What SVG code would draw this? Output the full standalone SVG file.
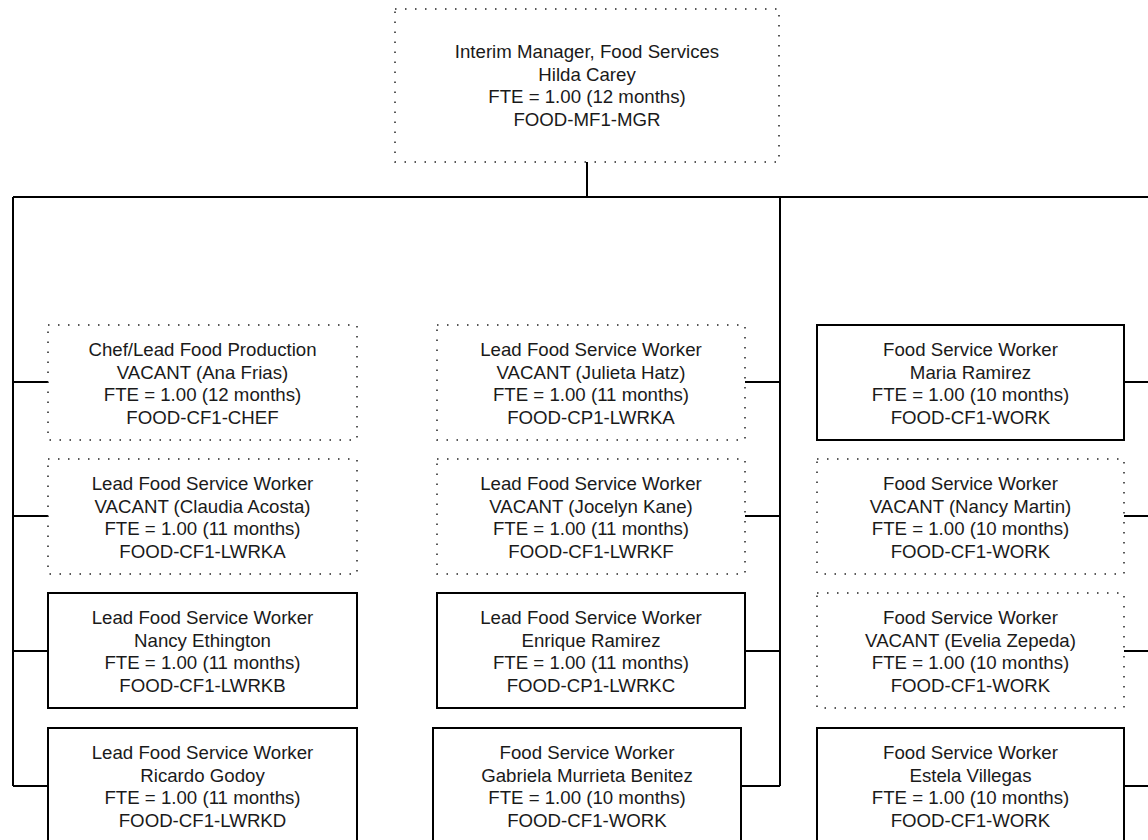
<svg xmlns="http://www.w3.org/2000/svg" width="1148" height="840" viewBox="0 0 1148 840">
<style>
  .box{fill:#fff;stroke:#000;stroke-width:2}
  .dot{fill:#fff;stroke:#222;stroke-width:1.5;stroke-dasharray:1.5 8.5}
  .conn{fill:none;stroke:#000;stroke-width:2}
  text{font-family:"Liberation Sans",Arial,sans-serif;font-size:18.67px;fill:#1a1a1a;text-anchor:middle}
</style>
<rect width="1148" height="840" fill="#fff"/>
<g id="connectors">
  <path class="conn" d="M587 162V197M13 197H1150M13 197V786M780 197V786"/>
  <path class="conn" d="M13 382H48M13 516H48M13 651H48M13 786H48"/>
  <path class="conn" d="M745 382H780M745 516H780M745 651H780M741 786H780"/>
  <path class="conn" d="M1124 382H1150M1124 516H1150M1124 651H1150M1124 786H1150"/>
</g>
<g id="n-mgr">
  <rect class="dot" x="395" y="9" width="384" height="153"/>
  <text x="587" y="58">Interim Manager, Food Services</text>
  <text x="587" y="80.5">Hilda Carey</text>
  <text x="587" y="103">FTE = 1.00 (12 months)</text>
  <text x="587" y="125.5">FOOD-MF1-MGR</text>
</g>
<g id="n-chef">
  <rect class="dot" x="48" y="325" width="309" height="115"/>
  <text x="202.5" y="356">Chef/Lead Food Production</text>
  <text x="202.5" y="378.5">VACANT (Ana Frias)</text>
  <text x="202.5" y="401">FTE = 1.00 (12 months)</text>
  <text x="202.5" y="423.5">FOOD-CF1-CHEF</text>
</g>
<g id="n-lwrka">
  <rect class="dot" x="48" y="459" width="309" height="115"/>
  <text x="202.5" y="490">Lead Food Service Worker</text>
  <text x="202.5" y="512.5">VACANT (Claudia Acosta)</text>
  <text x="202.5" y="535">FTE = 1.00 (11 months)</text>
  <text x="202.5" y="557.5">FOOD-CF1-LWRKA</text>
</g>
<g id="n-lwrkb">
  <rect class="box" x="48" y="593" width="309" height="115"/>
  <text x="202.5" y="624">Lead Food Service Worker</text>
  <text x="202.5" y="646.5">Nancy Ethington</text>
  <text x="202.5" y="669">FTE = 1.00 (11 months)</text>
  <text x="202.5" y="691.5">FOOD-CF1-LWRKB</text>
</g>
<g id="n-lwrkd">
  <rect class="box" x="48" y="728" width="309" height="116"/>
  <text x="202.5" y="759">Lead Food Service Worker</text>
  <text x="202.5" y="781.5">Ricardo Godoy</text>
  <text x="202.5" y="804">FTE = 1.00 (11 months)</text>
  <text x="202.5" y="826.5">FOOD-CF1-LWRKD</text>
</g>
<g id="n-cp-lwrka">
  <rect class="dot" x="437" y="325" width="308" height="115"/>
  <text x="591" y="356">Lead Food Service Worker</text>
  <text x="591" y="378.5">VACANT (Julieta Hatz)</text>
  <text x="591" y="401">FTE = 1.00 (11 months)</text>
  <text x="591" y="423.5">FOOD-CP1-LWRKA</text>
</g>
<g id="n-lwrkf">
  <rect class="dot" x="437" y="459" width="308" height="115"/>
  <text x="591" y="490">Lead Food Service Worker</text>
  <text x="591" y="512.5">VACANT (Jocelyn Kane)</text>
  <text x="591" y="535">FTE = 1.00 (11 months)</text>
  <text x="591" y="557.5">FOOD-CF1-LWRKF</text>
</g>
<g id="n-lwrkc">
  <rect class="box" x="437" y="593" width="308" height="115"/>
  <text x="591" y="624">Lead Food Service Worker</text>
  <text x="591" y="646.5">Enrique Ramirez</text>
  <text x="591" y="669">FTE = 1.00 (11 months)</text>
  <text x="591" y="691.5">FOOD-CP1-LWRKC</text>
</g>
<g id="n-gabriela">
  <rect class="box" x="433" y="728" width="308" height="116"/>
  <text x="587" y="759">Food Service Worker</text>
  <text x="587" y="781.5">Gabriela Murrieta Benitez</text>
  <text x="587" y="804">FTE = 1.00 (10 months)</text>
  <text x="587" y="826.5">FOOD-CF1-WORK</text>
</g>
<g id="n-maria">
  <rect class="box" x="817" y="325" width="307" height="115"/>
  <text x="970.5" y="356">Food Service Worker</text>
  <text x="970.5" y="378.5">Maria Ramirez</text>
  <text x="970.5" y="401">FTE = 1.00 (10 months)</text>
  <text x="970.5" y="423.5">FOOD-CF1-WORK</text>
</g>
<g id="n-nancy-martin">
  <rect class="dot" x="817" y="459" width="307" height="115"/>
  <text x="970.5" y="490">Food Service Worker</text>
  <text x="970.5" y="512.5">VACANT (Nancy Martin)</text>
  <text x="970.5" y="535">FTE = 1.00 (10 months)</text>
  <text x="970.5" y="557.5">FOOD-CF1-WORK</text>
</g>
<g id="n-evelia">
  <rect class="dot" x="817" y="593" width="307" height="115"/>
  <text x="970.5" y="624">Food Service Worker</text>
  <text x="970.5" y="646.5">VACANT (Evelia Zepeda)</text>
  <text x="970.5" y="669">FTE = 1.00 (10 months)</text>
  <text x="970.5" y="691.5">FOOD-CF1-WORK</text>
</g>
<g id="n-estela">
  <rect class="box" x="817" y="728" width="307" height="116"/>
  <text x="970.5" y="759">Food Service Worker</text>
  <text x="970.5" y="781.5">Estela Villegas</text>
  <text x="970.5" y="804">FTE = 1.00 (10 months)</text>
  <text x="970.5" y="826.5">FOOD-CF1-WORK</text>
</g>
</svg>
